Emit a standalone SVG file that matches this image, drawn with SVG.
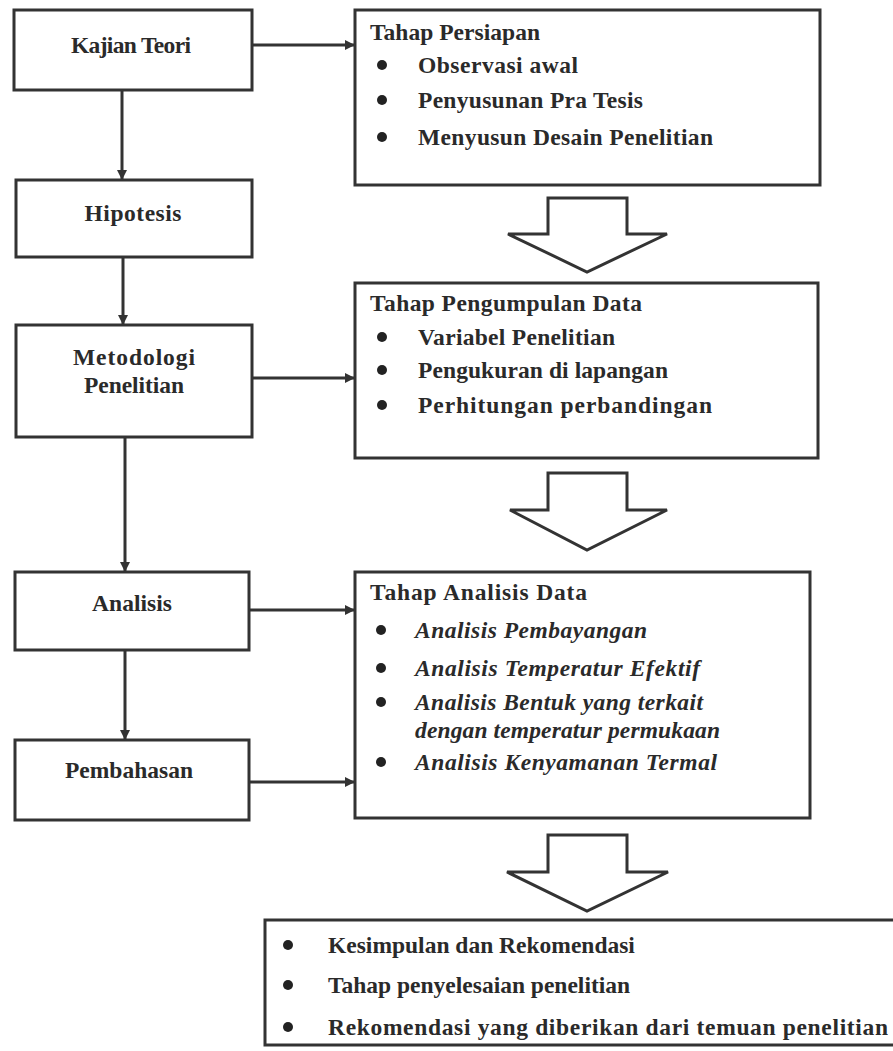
<svg xmlns="http://www.w3.org/2000/svg" width="893" height="1051" viewBox="0 0 893 1051">
<style>
.box{fill:#fff;stroke:#333;stroke-width:3}
.blk{fill:#fff;stroke:#333;stroke-width:3;stroke-linejoin:miter}
.t{font-family:"Liberation Serif","Times New Roman",serif;font-weight:bold;font-size:23.5px;fill:#2a2a2a}
.c{text-anchor:middle}
.i{font-style:italic}
.b{fill:#222}
.con{stroke:#333;stroke-width:3;fill:none}
</style>
<defs>
<marker id="ah" markerWidth="10" markerHeight="10" refX="9" refY="5" orient="auto" markerUnits="userSpaceOnUse">
<path d="M0,0 L10,5 L0,10 Z" fill="#333"/>
</marker>
</defs>
<rect width="893" height="1051" fill="#fff"/>
<g id="connectors">
<line class="con" x1="252" y1="45" x2="354" y2="45" marker-end="url(#ah)"/>
<line class="con" x1="122" y1="90" x2="122" y2="179" marker-end="url(#ah)"/>
<line class="con" x1="123" y1="257" x2="123" y2="324" marker-end="url(#ah)"/>
<line class="con" x1="252" y1="378" x2="354" y2="378" marker-end="url(#ah)"/>
<line class="con" x1="125" y1="437" x2="125" y2="571" marker-end="url(#ah)"/>
<line class="con" x1="250" y1="610" x2="354" y2="610" marker-end="url(#ah)"/>
<line class="con" x1="125" y1="650" x2="125" y2="739" marker-end="url(#ah)"/>
<line class="con" x1="250" y1="782" x2="354" y2="782" marker-end="url(#ah)"/>
</g>
<g id="kajian-teori">
<rect class="box" x="14" y="10" width="238" height="80"/>
<text class="t c" x="131" y="53" textLength="120">Kajian Teori</text>
</g>
<g id="hipotesis">
<rect class="box" x="16" y="180" width="236" height="77"/>
<text class="t c" x="133" y="221" textLength="97">Hipotesis</text>
</g>
<g id="metodologi">
<rect class="box" x="16" y="325" width="236" height="112"/>
<text class="t c" x="134" y="365" textLength="122">Metodologi</text>
<text class="t c" x="134" y="393" textLength="100">Penelitian</text>
</g>
<g id="analisis">
<rect class="box" x="15" y="572" width="234" height="78"/>
<text class="t c" x="132" y="611" textLength="80">Analisis</text>
</g>
<g id="pembahasan">
<rect class="box" x="15" y="740" width="234" height="80"/>
<text class="t c" x="129" y="778" textLength="128">Pembahasan</text>
</g>
<g id="tahap-persiapan">
<rect class="box" x="355" y="10" width="465" height="175"/>
<text class="t" x="370" y="40" textLength="170">Tahap Persiapan</text>
<circle class="b" cx="382" cy="65" r="5"/>
<text class="t" x="418" y="73" textLength="160">Observasi awal</text>
<circle class="b" cx="382" cy="100" r="5"/>
<text class="t" x="418" y="108" textLength="225">Penyusunan Pra Tesis</text>
<circle class="b" cx="382" cy="137" r="5"/>
<text class="t" x="418" y="145" textLength="295">Menyusun Desain Penelitian</text>
</g>
<g id="tahap-pengumpulan">
<rect class="box" x="355" y="283" width="463" height="175"/>
<text class="t" x="370" y="311" textLength="272">Tahap Pengumpulan Data</text>
<circle class="b" cx="382" cy="337" r="5"/>
<text class="t" x="418" y="345" textLength="197">Variabel Penelitian</text>
<circle class="b" cx="382" cy="370" r="5"/>
<text class="t" x="418" y="378" textLength="250">Pengukuran di lapangan</text>
<circle class="b" cx="382" cy="405" r="5"/>
<text class="t" x="418" y="413" textLength="294">Perhitungan perbandingan</text>
</g>
<g id="tahap-analisis">
<rect class="box" x="355" y="572" width="455" height="246"/>
<text class="t" x="370" y="600" textLength="217">Tahap Analisis Data</text>
<circle class="b" cx="381" cy="630" r="5"/>
<text class="t i" x="415" y="638" textLength="232">Analisis Pembayangan</text>
<circle class="b" cx="381" cy="668" r="5"/>
<text class="t i" x="415" y="676" textLength="285">Analisis Temperatur Efektif</text>
<circle class="b" cx="381" cy="702" r="5"/>
<text class="t i" x="415" y="710" textLength="288">Analisis Bentuk yang terkait</text>
<text class="t i" x="415" y="738" textLength="305">dengan temperatur permukaan</text>
<circle class="b" cx="381" cy="762" r="5"/>
<text class="t i" x="415" y="770" textLength="302">Analisis Kenyamanan Termal</text>
</g>
<g id="arrow-1">
<polygon class="blk" points="548,198 627,198 627,234 667,234 587,272 508,234 548,234"/>
</g>
<g id="arrow-2">
<polygon class="blk" points="548,473 627,473 627,510 667,510 587,550 510,510 548,510"/>
</g>
<g id="arrow-3">
<polygon class="blk" points="548,835 627,835 627,872 668,872 587,911 507,872 548,872"/>
</g>
<g id="kesimpulan">
<rect class="box" x="265" y="920" width="640" height="125"/>
<circle class="b" cx="288" cy="945" r="5"/>
<text class="t" x="328" y="953">Kesimpulan dan Rekomendasi</text>
<circle class="b" cx="288" cy="985" r="5"/>
<text class="t" x="328" y="993">Tahap penyelesaian penelitian</text>
<circle class="b" cx="288" cy="1027" r="5"/>
<text class="t" x="328" y="1035" textLength="560">Rekomendasi yang diberikan dari temuan penelitian</text>
</g>
</svg>
